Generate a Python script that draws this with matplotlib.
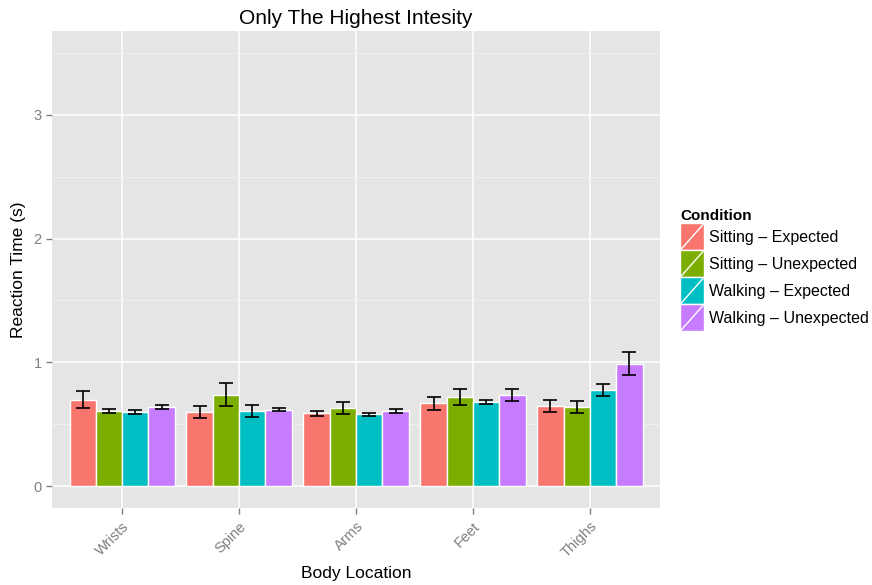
import matplotlib
matplotlib.use("Agg")
import matplotlib.pyplot as plt
import numpy as np
from matplotlib.legend_handler import HandlerBase
from matplotlib.patches import Rectangle
from matplotlib.lines import Line2D

plt.rcParams['font.family'] = ['Liberation Sans', 'DejaVu Sans']

locations = ["Wrists", "Spine", "Arms", "Feet", "Thighs"]
conditions = ["Sitting \u2013 Expected", "Sitting \u2013 Unexpected",
              "Walking \u2013 Expected", "Walking \u2013 Unexpected"]
colors = ["#F8766D", "#7CAE00", "#00BFC4", "#C77CFF"]

sit_exp = [0.70, 0.60, 0.59, 0.67, 0.65]
sit_unexp = [0.61, 0.74, 0.63, 0.72, 0.64]
walk_exp = [0.60, 0.61, 0.58, 0.68, 0.78]
walk_unexp = [0.64, 0.62, 0.61, 0.74, 0.99]

sit_exp_se = [0.07, 0.05, 0.02, 0.05, 0.048]
sit_unexp_se = [0.017, 0.093, 0.047, 0.066, 0.047]
walk_exp_se = [0.013, 0.048, 0.01, 0.013, 0.048]
walk_unexp_se = [0.013, 0.016, 0.016, 0.048, 0.094]

means = [sit_exp, sit_unexp, walk_exp, walk_unexp]
ses = [sit_exp_se, sit_unexp_se, walk_exp_se, walk_unexp_se]


class KeyHandler(HandlerBase):
    def create_artists(self, legend, orig_handle, xdescent, ydescent,
                       width, height, fontsize, trans):
        r = Rectangle((-xdescent, -ydescent), width, height,
                      facecolor=orig_handle.get_facecolor(),
                      edgecolor="white", linewidth=1, transform=trans)
        l = Line2D([-xdescent, -xdescent + width], [-ydescent, -ydescent + height],
                   color="white", linewidth=1, transform=trans)
        return [r, l]


fig = plt.figure(figsize=(8.72, 5.85), dpi=100)
ax = fig.add_axes([0.0596, 0.1316, 0.6974, 0.8154])
ax.set_facecolor("#E5E5E5")

x = np.arange(1, len(locations) + 1)
w = 0.225
handles = []
for i in range(4):
    pos = x + (i - 1.5) * w
    b = ax.bar(pos, means[i], width=w, color=colors[i], edgecolor="white",
               linewidth=1, zorder=3, label=conditions[i])
    ax.errorbar(pos, means[i], yerr=ses[i], fmt="none", ecolor="black",
                elinewidth=1.2, capsize=5.2, capthick=1.2, zorder=4)
    handles.append(b.patches[0])

ax.set_xlim(0.4, 5.6)
ax.set_ylim(-0.175, 3.675)
ax.set_yticks([0, 1, 2, 3])
ax.set_yticks([0.5, 1.5, 2.5, 3.5], minor=True)
ax.set_xticks(x)
ax.set_xticklabels(locations, rotation=45, ha="right", rotation_mode="anchor")
ax.grid(which="major", color="white", linewidth=1.1, zorder=0)
ax.grid(which="minor", color="#F2F2F2", linewidth=0.6, zorder=0)
ax.set_axisbelow(True)
for s in ax.spines.values():
    s.set_visible(False)
ax.tick_params(axis="both", which="major", colors="#7F7F7F", labelsize=10.5,
               length=4, width=1)
ax.tick_params(axis="both", which="minor", length=0)
ax.tick_params(axis="x", pad=4)

ax.set_title("Only The Highest Intesity", fontsize=15, pad=5)
ax.set_xlabel("Body Location", fontsize=12.5, labelpad=4)
ax.set_ylabel("Reaction Time (s)", fontsize=12.5, labelpad=5)

leg = fig.legend(handles, conditions, loc="center left",
                 bbox_to_anchor=(0.780, 0.538), frameon=False,
                 handler_map={Rectangle: KeyHandler()},
                 handlelength=1.5, handleheight=2.22, handletextpad=0.3,
                 labelspacing=0.0, fontsize=11.5, title="Condition",
                 title_fontproperties={"weight": "bold", "size": 11},
                 alignment="left", borderaxespad=0, borderpad=0)

fig.savefig("out.png", dpi=100)
